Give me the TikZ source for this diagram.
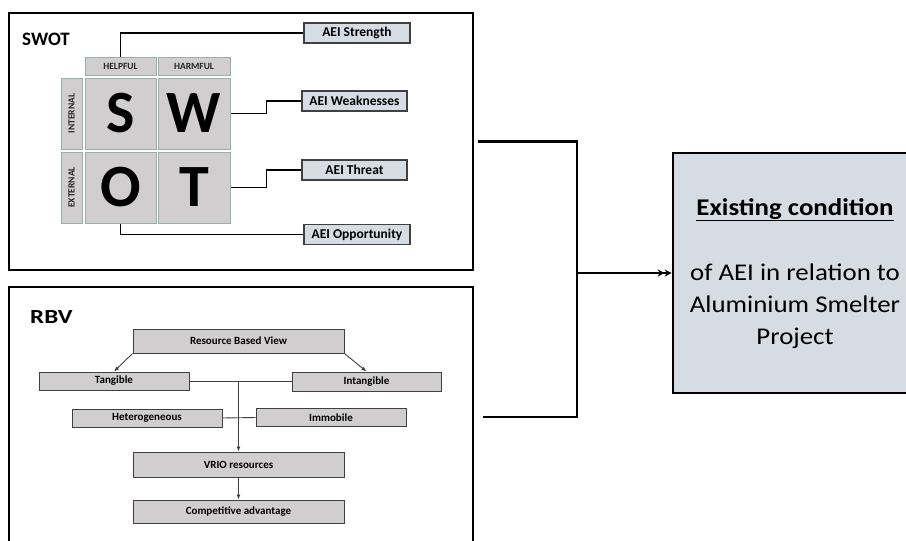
\documentclass[tikz,border=0pt]{standalone}
\usepackage{fontspec}
\setmainfont{Carlito}
\usetikzlibrary{arrows.meta}
\definecolor{cellfill}{HTML}{D0CECE}
\definecolor{cellline}{HTML}{9AB0A4}
\definecolor{aeifill}{HTML}{D6DCE4}
\definecolor{boxline}{HTML}{404040}
\newcommand{\wide}[1]{\scalebox{1.12}[1]{#1}}
\tikzset{
  frame/.style={draw=black, line width=2pt, fill=none, inner sep=0pt},
  cell/.style={draw=cellline, fill=cellfill, line width=1pt, inner sep=0pt, font=\fontsize{60}{60}\selectfont\bfseries},
  hdr/.style={draw=cellline, fill=cellfill, line width=1pt, inner sep=0pt, font=\fontsize{9.5}{9.5}\selectfont\bfseries, text=black!85},
  aei/.style={draw=boxline, fill=aeifill, line width=1.2pt, inner sep=0pt, minimum width=106pt, minimum height=20pt, font=\fontsize{13.5}{13.5}\selectfont\bfseries},
  rbox/.style={draw=boxline, fill=cellfill, line width=1pt, inner sep=0pt, font=\fontsize{11}{11}\selectfont\bfseries},
  conn/.style={draw=black, line width=1.4pt},
  rconn/.style={draw=boxline, line width=0.9pt},
  rarr/.style={rconn, -{Latex[length=5pt,width=4pt]}},
  bracket/.style={draw=black, line width=2.6pt},
  title/.style={inner sep=0pt, anchor=west, font=\fontsize{19}{19}\selectfont\bfseries}
}
\begin{document}
\begin{tikzpicture}[x=1pt,y=-1pt]
\useasboundingbox[fill=white] (0,0) rectangle (906,541);
% outer frames
\node[frame, minimum width=464pt, minimum height=257pt] (swot) at (241,141.5) {};
\node[frame, minimum width=464pt, minimum height=273pt] (rbv) at (241,423.5) {};
\node[title] (swott) at (22,39) {SWOT};
\node[title, font=\fontsize{20}{20}\selectfont\bfseries] (rbvt) at (30,317.5) {\scalebox{1.25}[1]{RBV}};
% SWOT grid
\node[hdr, minimum width=71pt, minimum height=18pt] (help) at (120.5,66) {HELPFUL};
\node[hdr, minimum width=72pt, minimum height=18pt] (harm) at (194,66) {HARMFUL};
\node[hdr, minimum width=21pt, minimum height=71pt] (int) at (71.5,113.5) {\rotatebox{90}{INTERNAL}};
\node[hdr, minimum width=21pt, minimum height=71pt] (ext) at (71.5,187.5) {\rotatebox{90}{EXTERNAL}};
\node[cell, minimum width=71pt, minimum height=71pt] (S) at (120.5,113.5) {S};
\node[cell, minimum width=72pt, minimum height=71pt] (W) at (194,113.5) {W};
\node[cell, minimum width=71pt, minimum height=71pt] (O) at (120.5,187.5) {O};
\node[cell, minimum width=72pt, minimum height=71pt] (T) at (194,187.5) {T};
% AEI boxes
\node[aei] (str) at (357,33) {AEI Strength};
\node[aei, minimum width=105pt] (weak) at (354.5,101) {AEI Weaknesses};
\node[aei, minimum width=105pt] (thr) at (354.5,170) {AEI Threat};
\node[aei] (opp) at (357,234.5) {AEI Opportunity};
\draw[conn] (help.north) |- (str.west);
\draw[conn] (W.east) -- ++(36,0) |- (weak.west);
\draw[conn] (T.east) -- ++(36,0) |- (thr.west);
\draw[conn] (O.south) |- (opp.west);
% RBV chart
\node[rbox, minimum width=211pt, minimum height=24pt] (rbvv) at (238.5,341) {Resource Based View};
\node[rbox, minimum width=150pt, minimum height=18pt] (tang) at (114,381) {Tangible};
\node[rbox, minimum width=149pt, minimum height=19pt] (intang) at (366.5,381.5) {Intangible};
\node[rbox, minimum width=150pt, minimum height=18pt] (het) at (147,418) {Heterogeneous};
\node[rbox, minimum width=150pt, minimum height=18pt] (imm) at (331,417.5) {Immobile};
\node[rbox, minimum width=211pt, minimum height=25pt] (vrio) at (238.5,464.5) {VRIO resources};
\node[rbox, minimum width=211pt, minimum height=23pt] (comp) at (238.5,511.5) {Competitive advantage};
\draw[rarr] (rbvv.south west) -- (tang.north);
\draw[rarr] (rbvv.south east) -- (intang.north);
\draw[rconn] (tang.east) -- (tang.east -| intang.west);
\draw[rconn] (het.east) -- (imm.west);
\draw[rarr] (tang.east -| vrio.north) -- (vrio.north);
\draw[rarr] (vrio.south) -- (comp.north);
% result box
\node[draw=black, line width=2.6pt, fill=aeifill, minimum width=245pt, minimum height=240pt, inner sep=0pt] (res) at (795.5,273) {};
\node[inner sep=0pt, anchor=base, font=\fontsize{24}{24}\selectfont\bfseries] (restitle) at (795,215) {\wide{\underline{Existing condition}}};
\node[inner sep=0pt, align=center, font=\fontsize{24}{32}\selectfont] (resbody) at (795,306) {\wide{of AEI in relation to}\\\wide{Aluminium Smelter}\\\wide{Project}};
% bracket and arrow
\coordinate (jn) at (577,273);
\draw[bracket] ([xshift=4pt]swot.east) -| (jn);
\draw[bracket] ([xshift=9pt]rbv.east |- 0,417) -| (jn);
\draw[bracket, -{Stealth[length=7pt,width=7pt]Stealth[length=7pt,width=7pt]}] (jn) -- (res.west);
\end{tikzpicture}
\end{document}
